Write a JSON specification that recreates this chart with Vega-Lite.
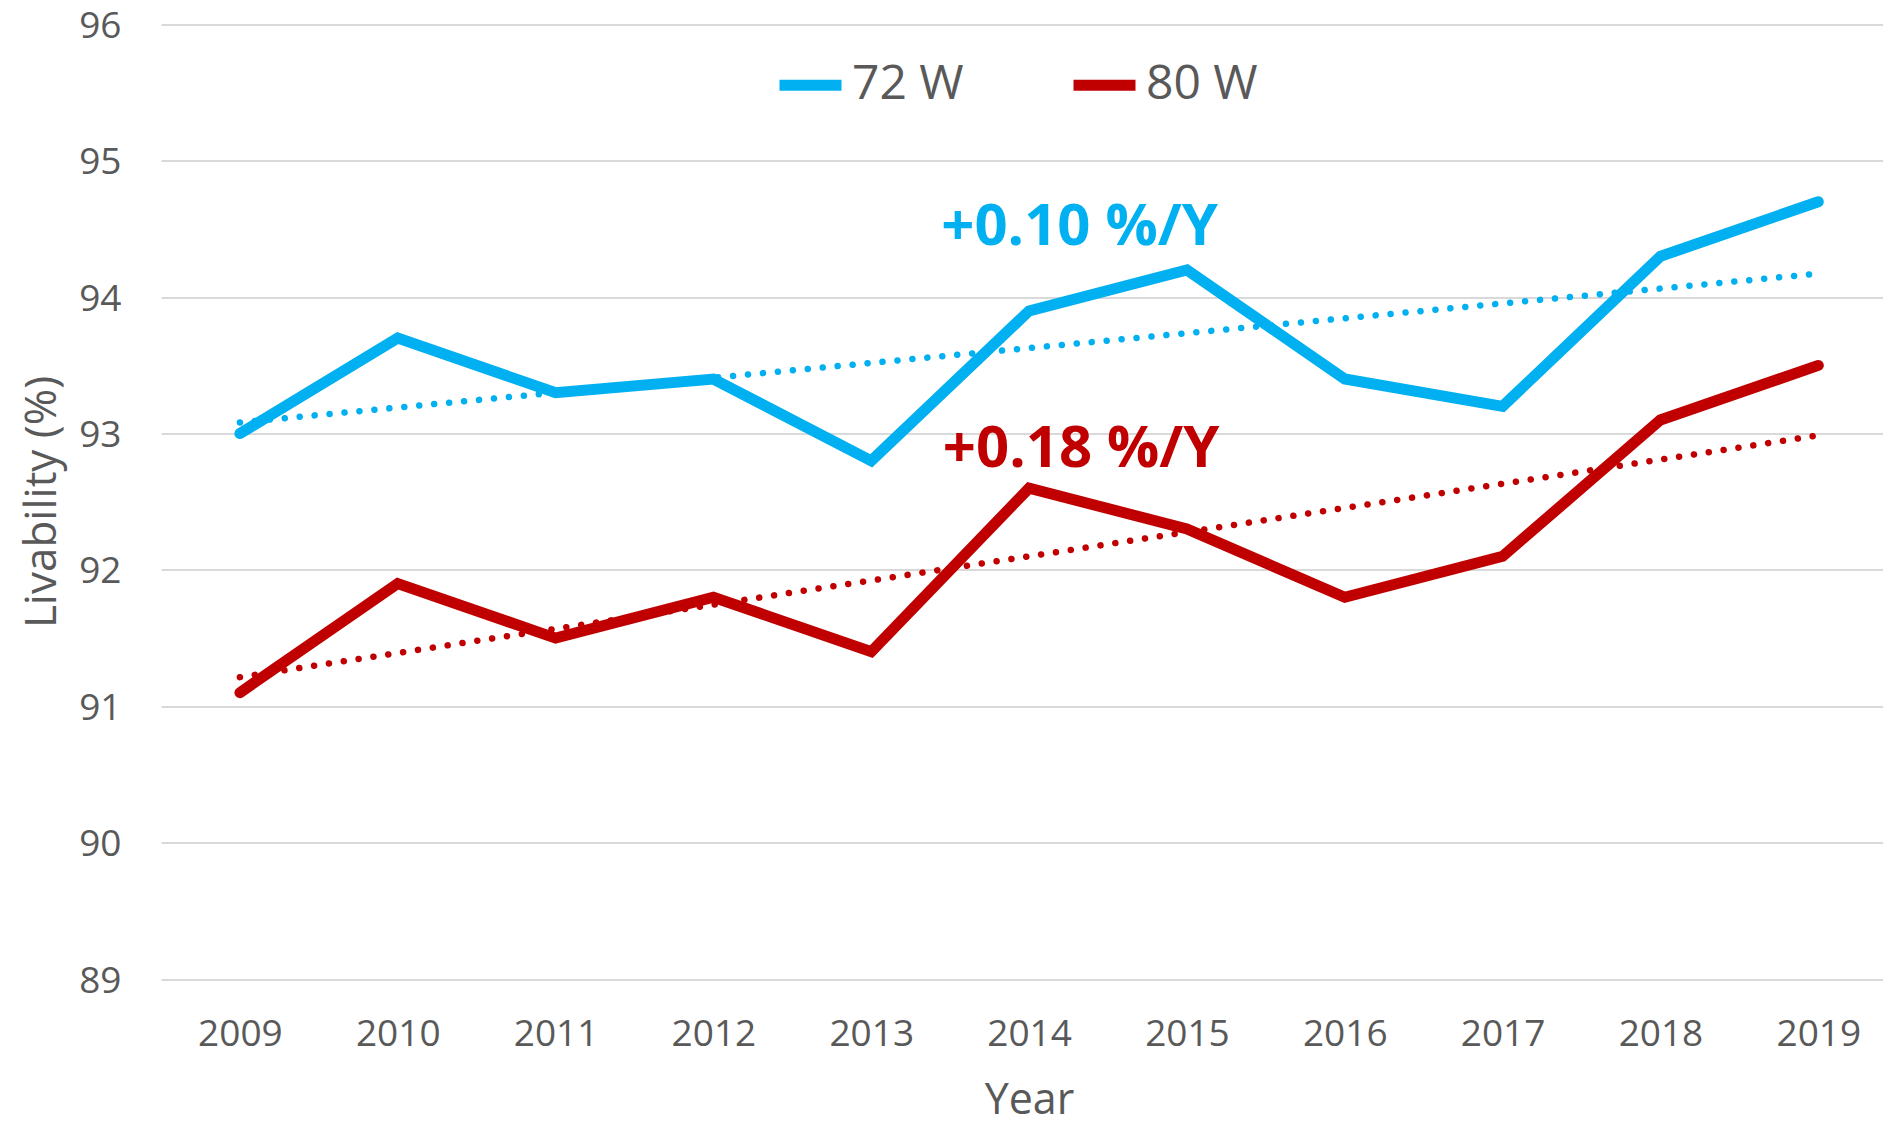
{
  "$schema": "https://vega.github.io/schema/vega-lite/v6.json",
  "autosize": {"type": "none"},
  "width": 1722,
  "height": 954.5,
  "padding": {"left": 161, "top": 24.5, "right": 0, "bottom": 142},
  "background": "white",
  "config": {
    "view": {"stroke": null},
    "font": "Open Sans",
    "axis": {"labelColor": "#595959", "titleColor": "#595959", "labelFont": "Open Sans", "titleFont": "Open Sans", "titleFontWeight": "normal"}
  },
  "datasets": {
    "series": [
      {"year": 2009, "value": 93.0, "series": "72 W"},
      {"year": 2010, "value": 93.7, "series": "72 W"},
      {"year": 2011, "value": 93.3, "series": "72 W"},
      {"year": 2012, "value": 93.4, "series": "72 W"},
      {"year": 2013, "value": 92.8, "series": "72 W"},
      {"year": 2014, "value": 93.9, "series": "72 W"},
      {"year": 2015, "value": 94.2, "series": "72 W"},
      {"year": 2016, "value": 93.4, "series": "72 W"},
      {"year": 2017, "value": 93.2, "series": "72 W"},
      {"year": 2018, "value": 94.3, "series": "72 W"},
      {"year": 2019, "value": 94.7, "series": "72 W"},
      {"year": 2009, "value": 91.1, "series": "80 W"},
      {"year": 2010, "value": 91.9, "series": "80 W"},
      {"year": 2011, "value": 91.5, "series": "80 W"},
      {"year": 2012, "value": 91.8, "series": "80 W"},
      {"year": 2013, "value": 91.4, "series": "80 W"},
      {"year": 2014, "value": 92.6, "series": "80 W"},
      {"year": 2015, "value": 92.3, "series": "80 W"},
      {"year": 2016, "value": 91.8, "series": "80 W"},
      {"year": 2017, "value": 92.1, "series": "80 W"},
      {"year": 2018, "value": 93.1, "series": "80 W"},
      {"year": 2019, "value": 93.5, "series": "80 W"}
    ],
    "notes": [
      {"year": 2014.32, "value": 94.51, "label": "+0.10 %/Y", "series": "72 W"},
      {"year": 2014.33, "value": 92.88, "label": "+0.18 %/Y", "series": "80 W"}
    ]
  },
  "layer": [
    {
      "data": {"name": "series"},
      "mark": {"type": "line", "strokeWidth": 11, "strokeCap": "round", "strokeJoin": "miter", "clip": false},
      "encoding": {
        "x": {
          "field": "year", "type": "quantitative",
          "scale": {"domain": [2008.5, 2019.41], "nice": false, "zero": false},
          "axis": {
            "title": "Year", "values": [2009, 2010, 2011, 2012, 2013, 2014, 2015, 2016, 2017, 2018, 2019],
            "format": "d", "grid": false, "domain": false, "ticks": false,
            "labelFontSize": 37, "labelPadding": 37, "labelBaseline": "top",
            "titleFontSize": 43, "titleX": 868, "titleY": 134, "titleBaseline": "alphabetic", "titleAlign": "center"
          }
        },
        "y": {
          "field": "value", "type": "quantitative",
          "scale": {"domain": [89, 96], "nice": false, "zero": false},
          "axis": {
            "title": "Livability (%)", "values": [89, 90, 91, 92, 93, 94, 95, 96], "format": "d",
            "grid": true, "gridColor": "#D9D9D9", "gridWidth": 2, "domain": false, "ticks": false,
            "labelFontSize": 37, "labelPadding": 40, "labelBaseline": "alphabetic", "labelOffset": 13,
            "titleFontSize": 44, "titleX": -106, "titleY": 477, "titleAngle": -90, "titleBaseline": "alphabetic", "titleAlign": "center"
          }
        },
        "color": {
          "field": "series", "type": "nominal",
          "scale": {"domain": ["72 W", "80 W"], "range": ["#00B0F0", "#C00000"]},
          "legend": {
            "title": null, "orient": "none", "direction": "horizontal",
            "legendX": 613, "legendY": 24,
            "symbolType": "stroke", "symbolStrokeWidth": 11, "symbolSize": 3844, "symbolDash": [],
            "labelFontSize": 48, "labelColor": "#595959", "labelFont": "Open Sans",
            "labelOffset": 5, "columnPadding": 87
          }
        }
      }
    },
    {
      "data": {"name": "series"},
      "transform": [
        {"regression": "value", "on": "year", "groupby": ["series"], "method": "linear", "extent": [2009, 2019]}
      ],
      "mark": {"type": "line", "strokeWidth": 6.5, "strokeDash": [0.01, 15], "strokeCap": "round", "clip": false},
      "encoding": {
        "x": {"field": "year", "type": "quantitative"},
        "y": {"field": "value", "type": "quantitative"},
        "color": {"field": "series", "type": "nominal"},
        "detail": {"field": "series"}
      }
    },
    {
      "data": {"name": "notes"},
      "mark": {"type": "text", "fontSize": 58, "fontWeight": "bold", "font": "Open Sans", "align": "center", "baseline": "middle"},
      "encoding": {
        "x": {"field": "year", "type": "quantitative"},
        "y": {"field": "value", "type": "quantitative"},
        "text": {"field": "label"},
        "color": {"field": "series", "type": "nominal"}
      }
    }
  ]
}
